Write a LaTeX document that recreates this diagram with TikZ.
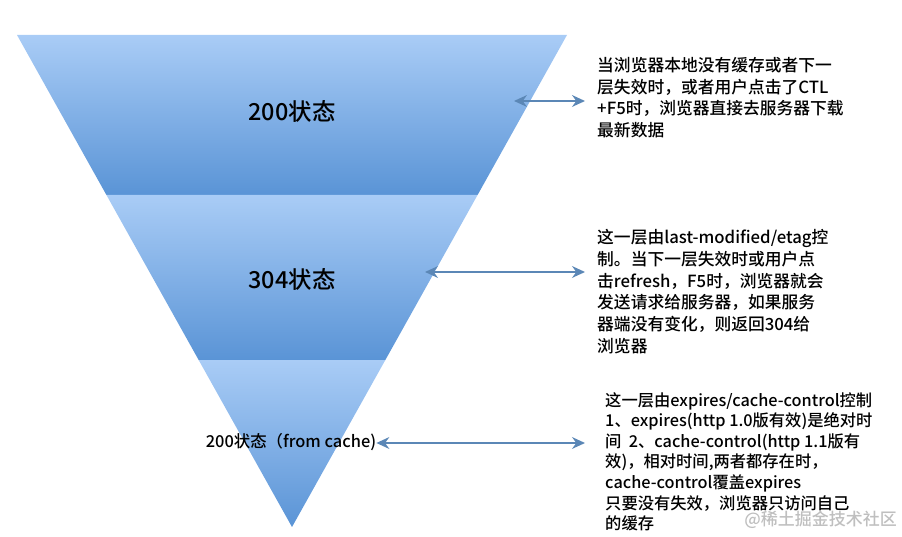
\documentclass[tikz,border=0pt]{standalone}
\usepackage{fontspec}
\setmainfont{Noto Sans CJK SC}[UprightFont={* Medium}]
\usetikzlibrary{calc, arrows.meta}
\tikzset{>={Stealth[length=11pt,width=10pt]}}
\definecolor{bandtop}{HTML}{A9CCF6}
\definecolor{bandbot}{HTML}{5A94D6}
\definecolor{arrowblue}{HTML}{5B87B6}
\tikzset{band/.style={top color=bandtop, bottom color=bandbot},
  level/.style={inner sep=0pt, font=\fontsize{20}{24}\selectfont},
  note/.style={anchor=north west, align=left, inner sep=0pt, font=\fontsize{14.3}{18.6}\selectfont},
  link/.style={<->, draw=arrowblue, line width=2.2pt}}

\begin{document}
\begin{tikzpicture}[x=0.03cm, y=0.03cm]
    \useasboundingbox (0,0) rectangle (902,537);
    \coordinate (A) at (17,502);
    \coordinate (B) at (567,502);
    \coordinate (C) at (292,10);
    \coordinate (P) at ($(A)!0.325!(C)$);
    \coordinate (Q) at ($(B)!0.325!(C)$);
    \coordinate (R) at ($(A)!0.6606!(C)$);
    \coordinate (S) at ($(B)!0.6606!(C)$);
    \shade[band] (A) -- (B) -- (Q) -- (P) -- cycle;
    \shade[band] (P) -- (Q) -- (S) -- (R) -- cycle;
    \shade[band] (R) -- (S) -- (C) -- cycle;
    \node[level] (L1) at (292,425) {200状态};
    \node[level] (L2) at (292,257) {304状态};
    \node[inner sep=0pt, font=\fontsize{14}{17}\selectfont] (L3) at (291,95) {200状态（from cache)};
    \node[note] (T1) at (597,480) {当浏览器本地没有缓存或者下一\\层失效时，或者用户点击了CTL\\+F5时，浏览器直接去服务器下载\\最新数据};
    \node[note] (T2) at (597,308) {这一层由last-modified/etag控\\制。当下一层失效时或用户点\\击refresh，F5时，浏览器就会\\发送请求给服务器，如果服务\\器端没有变化，则返回304给\\浏览器};
    \node[note, font=\fontsize{13.9}{17.6}\selectfont] (T3) at (605,145) {这一层由expires/cache-control控制\\1、expires(http 1.0版有效)是绝对时\\间\ \ 2、cache-control(http 1.1版有\\效)，相对时间,两者都存在时，\\cache-control覆盖expires\\只要没有失效，浏览器只访问自己\\的缓存};
    \node[anchor=east, inner sep=0pt, text=black!25, font=\fontsize{14.5}{17}\selectfont] (W) at (897,17) {@稀土掘金技术社区};
    \coordinate (S1) at (514,436);
    \coordinate (E1) at (585,436);
    \coordinate (S2) at (425,265);
    \coordinate (E2) at (585,265);
    \coordinate (E3) at (585,94);
    \draw[link] (S1) -- (E1);
    \draw[link] (S2) -- (E2);
    \draw[link] (L3.east |- E3) -- (E3);
\end{tikzpicture}
\end{document}
